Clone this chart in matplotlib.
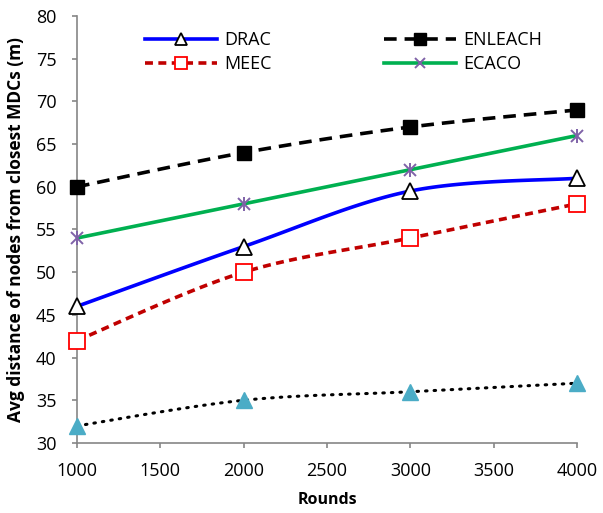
import numpy as np
import matplotlib
matplotlib.use("Agg")
import matplotlib.pyplot as plt
from matplotlib.lines import Line2D

rounds = [1000, 2000, 3000, 4000]
drac = [46, 53, 59.5, 61]
enleach = [60, 64, 67, 69]
meec = [42, 50, 54, 58]
ecaco = [54, 58, 62, 66]
other = [32, 35, 36, 37]

plt.rcParams['font.family'] = ['Open Sans', 'DejaVu Sans']

def smooth(x, y, n=40):
    x = np.asarray(x, float); y = np.asarray(y, float)
    P = np.column_stack([x, y])
    out = []
    for i in range(len(P) - 1):
        p0 = P[i - 1] if i > 0 else P[i]
        p1 = P[i]; p2 = P[i + 1]
        p3 = P[i + 2] if i + 2 < len(P) else P[i + 1]
        c1 = p1 + (p2 - p0) / 6.0
        c2 = p2 - (p3 - p1) / 6.0
        t = np.linspace(0, 1, n)[:, None]
        seg = (1 - t) ** 3 * p1 + 3 * (1 - t) ** 2 * t * c1 + 3 * (1 - t) * t ** 2 * c2 + t ** 3 * p2
        out.append(seg if i == 0 else seg[1:])
    S = np.vstack(out)
    return S[:, 0], S[:, 1]

fig = plt.figure(figsize=(6.03, 5.13), dpi=100)
ax = fig.add_axes([0.1277, 0.1365, 0.829, 0.8323])

lw = 2.6
sx, sy = smooth(rounds, drac)
ax.plot(sx, sy, color='#0000FF', lw=lw, zorder=3)
ax.plot(rounds, drac, ls='none', marker='^', ms=11, mfc='white', mec='black', mew=1.3, zorder=5, clip_on=False)

sx, sy = smooth(rounds, enleach)
ax.plot(sx, sy, color='black', lw=lw, dashes=(3.5, 2.2), zorder=3)
ax.plot(rounds, enleach, ls='none', marker='s', ms=10, mfc='black', mec='black', zorder=5, clip_on=False)

sx, sy = smooth(rounds, meec)
ax.plot(sx, sy, color='#C00000', lw=lw, dashes=(2.2, 1.5), zorder=3)
ax.plot(rounds, meec, ls='none', marker='s', ms=12, mfc='white', mec='#FF0000', mew=1.3, zorder=5, clip_on=False)

sx, sy = smooth(rounds, ecaco)
ax.plot(sx, sy, color='#00B050', lw=lw, zorder=3)
ax.plot(rounds, ecaco, ls='none', marker='x', ms=9, mec='#7F62A8', mew=1.4, zorder=5, clip_on=False)
ax.plot(rounds, ecaco, ls='none', marker='|', ms=10, mec='#7F62A8', mew=1.4, zorder=5, clip_on=False)

sx, sy = smooth(rounds, other)
ax.plot(sx, sy, color='black', lw=2.2, ls=(0, (0.5, 2.3)), dash_capstyle='round', zorder=3)
ax.plot(rounds, other, ls='none', marker='^', ms=11, mfc='#4BACC6', mec='#4BACC6', zorder=5, clip_on=False)

ax.set_xlim(1000, 4000)
ax.set_ylim(30, 80)
ax.set_xticks([1000, 1500, 2000, 2500, 3000, 3500, 4000])
ax.set_yticks(range(30, 81, 5))
for s in ['top', 'right']:
    ax.spines[s].set_visible(False)
for s in ['left', 'bottom']:
    ax.spines[s].set_color('#868686')
    ax.spines[s].set_linewidth(1.2)
ax.tick_params(axis='both', direction='out', length=3.6, width=1.2, color='#868686', labelsize=13, labelcolor='black')
ax.tick_params(axis='y', pad=11)
ax.tick_params(axis='x', pad=10)
ax.set_xlabel('Rounds', fontsize=11.5, fontweight='bold', labelpad=9)
ax.set_ylabel('Avg distance of nodes from closest MDCs (m)', fontsize=12.5, fontweight='bold')
ax.yaxis.set_label_coords(-0.104, 0.5)

h_drac = Line2D([], [], color='#0000FF', lw=lw, marker='^', ms=8, mfc='white', mec='black', mew=1.3)
h_meec = Line2D([], [], color='#C00000', lw=lw, dashes=(2.2, 1.5), marker='s', ms=8, mfc='white', mec='#FF0000', mew=1.3)
h_enl = Line2D([], [], color='black', lw=lw, dashes=(3.5, 2.2), marker='s', ms=8, mfc='black', mec='black')
h_eca = Line2D([], [], color='#00B050', lw=lw, marker='x', ms=7, mec='#7F62A8', mew=1.4)
leg = ax.legend([h_drac, h_meec, h_enl, h_eca], ['DRAC', 'MEEC', 'ENLEACH', 'ECACO'],
                ncol=2, frameon=False, fontsize=13, handlelength=4.0, columnspacing=6.2,
                handletextpad=0.4, labelspacing=0.35, loc='upper left',
                bbox_to_anchor=(0.104, 1.003))

fig.savefig('out.png', dpi=100)
